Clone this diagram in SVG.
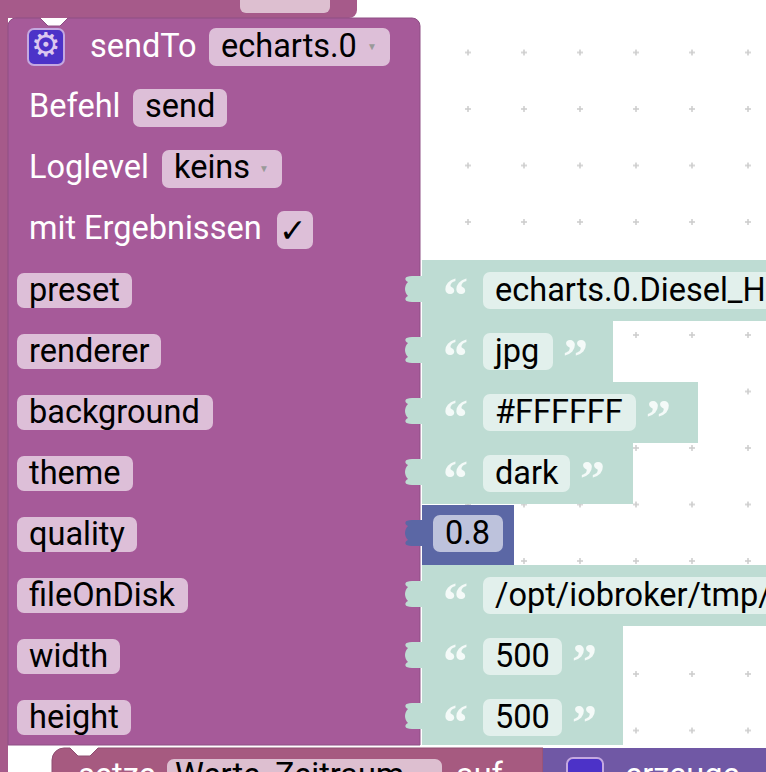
<svg xmlns="http://www.w3.org/2000/svg" width="766" height="772" viewBox="0 0 766 772">
<style>
text{font-family:Roboto,"Noto Sans",sans-serif;font-size:32.5px}
.w{fill:#fff}.k{fill:#000}
.pill{fill:#DDBFD8}
.gp{fill:#E2F0EC}
.g{fill:#BEDCD3}
.q{fill:#F4FAF8;font-family:"Liberation Serif",serif;font-size:50px;font-weight:bold}
.t{fill:#999;font-size:10px}
.dot{stroke:#ccc;stroke-width:1.5}
</style>
<defs>
<pattern id="grid" x="0" y="0" width="56" height="56.5" patternUnits="userSpaceOnUse" patternTransform="translate(468,335)">
<path class="dot" d="M-3 0H3M0 -3V3"/>
<path class="dot" d="M53 0H59M56 -3V3"/><path class="dot" d="M-3 56.5H3M0 53.5V59.5"/><path class="dot" d="M53 56.5H59M56 53.5V59.5"/>
</pattern>
</defs>
<rect width="766" height="772" fill="#fff"/>
<rect width="766" height="772" fill="url(#grid)"/>
<g id="parent">
<rect x="-10" y="-20" width="367" height="38" rx="8" fill="#A65A8A"/>
<rect x="240" y="-20" width="90" height="33" rx="6" fill="#DDBFD0"/>
<rect x="-10" y="0" width="18" height="772" fill="#A65A8A"/>
</g>
<g id="connectors">
<rect x="422" y="260" width="344" height="61" class="g"/>
<rect x="422" y="321" width="191" height="61" class="g"/>
<rect x="422" y="382" width="276" height="61" class="g"/>
<rect x="422" y="443" width="211" height="61" class="g"/>
<rect x="422" y="565" width="344" height="61" class="g"/>
<rect x="422" y="626" width="201" height="61" class="g"/>
<rect x="422" y="687" width="201" height="58" class="g"/>
</g>
<g id="sendTo">
<path d="M16 18H40L48 26H60L68 18H412a8 8 0 0 1 8 8V745H8V26a8 8 0 0 1 8-8Z" fill="#A65A99" stroke="#8E4E84" stroke-width="1"/>
<rect x="28" y="29" width="36" height="36" rx="6" fill="#4C32C8" stroke="#C4A8E0" stroke-width="2"/>
<text x="46" y="56" fill="#DCC8F0" text-anchor="middle" font-size="26">⚙</text>
<text x="90" y="57" class="w">sendTo</text>
<rect x="209" y="28" width="181" height="38" rx="7" class="pill"/>
<text x="221" y="57" class="k">echarts.0</text><text x="367" y="50" class="t">▼</text>
<text x="29" y="117" class="w">Befehl</text>
<rect x="133" y="89" width="94" height="38" rx="7" class="pill"/><text x="145" y="117" class="k">send</text>
<text x="29" y="178" class="w">Loglevel</text>
<rect x="162" y="150" width="120" height="38" rx="7" class="pill"/><text x="174" y="178" class="k">keins</text><text x="259" y="172" class="t">▼</text>
<text x="29" y="239" class="w">mit Ergebnissen</text>
<rect x="277" y="211" width="36" height="38" rx="7" class="pill"/><text x="279" y="242" class="k" font-size="34" font-family="DejaVu Sans">✓</text>
<g id="labels">
<rect x="17" y="273" width="115" height="35" rx="7" class="pill"/><text x="29" y="301" class="k">preset</text>
<rect x="17" y="334" width="144" height="35" rx="7" class="pill"/><text x="29" y="362" class="k">renderer</text>
<rect x="17" y="395" width="196" height="35" rx="7" class="pill"/><text x="29" y="423" class="k">background</text>
<rect x="17" y="456" width="116" height="35" rx="7" class="pill"/><text x="29" y="484" class="k">theme</text>
<rect x="17" y="517" width="120" height="35" rx="7" class="pill"/><text x="29" y="545" class="k">quality</text>
<rect x="17" y="578" width="171" height="35" rx="7" class="pill"/><text x="29" y="606" class="k">fileOnDisk</text>
<rect x="17" y="639" width="103" height="35" rx="7" class="pill"/><text x="29" y="667" class="k">width</text>
<rect x="17" y="700" width="114" height="35" rx="7" class="pill"/><text x="29" y="728" class="k">height</text>
</g>
</g>
<g id="notches" fill="#BEDCD3">
<path d="M422 276h-10c-8 0-8 4-4 6c-4 4-4 10 0 14c-4 2-4 6 4 6h10Z"/>
<path d="M422 337h-10c-8 0-8 4-4 6c-4 4-4 10 0 14c-4 2-4 6 4 6h10Z"/>
<path d="M422 398h-10c-8 0-8 4-4 6c-4 4-4 10 0 14c-4 2-4 6 4 6h10Z"/>
<path d="M422 459h-10c-8 0-8 4-4 6c-4 4-4 10 0 14c-4 2-4 6 4 6h10Z"/>
<path d="M422 581h-10c-8 0-8 4-4 6c-4 4-4 10 0 14c-4 2-4 6 4 6h10Z"/>
<path d="M422 642h-10c-8 0-8 4-4 6c-4 4-4 10 0 14c-4 2-4 6 4 6h10Z"/>
<path d="M422 703h-10c-8 0-8 4-4 6c-4 4-4 10 0 14c-4 2-4 6 4 6h10Z"/>
</g>
<g id="texts">
<text x="443" y="312" class="q">“</text><rect x="483" y="272" width="300" height="37" rx="7" class="gp"/><text x="495" y="301" class="k">echarts.0.Diesel_H</text>
<text x="443" y="373" class="q">“</text><rect x="483" y="333" width="70" height="37" rx="7" class="gp"/><text x="495" y="362" class="k">jpg</text><text x="563" y="373" class="q">”</text>
<text x="443" y="434" class="q">“</text><rect x="483" y="394" width="153" height="37" rx="7" class="gp"/><text x="495" y="423" class="k">#FFFFFF</text><text x="646" y="434" class="q">”</text>
<text x="443" y="495" class="q">“</text><rect x="483" y="455" width="87" height="37" rx="7" class="gp"/><text x="495" y="484" class="k">dark</text><text x="580" y="495" class="q">”</text>
<text x="443" y="617" class="q">“</text><rect x="483" y="577" width="300" height="37" rx="7" class="gp"/><text x="495" y="606" class="k">/opt/iobroker/tmp/</text>
<text x="443" y="678" class="q">“</text><rect x="483" y="638" width="79" height="37" rx="7" class="gp"/><text x="495" y="667" class="k">500</text><text x="572" y="678" class="q">”</text>
<text x="443" y="739" class="q">“</text><rect x="483" y="699" width="79" height="37" rx="7" class="gp"/><text x="495" y="728" class="k">500</text><text x="572" y="739" class="q">”</text>
</g>
<g id="quality">
<rect x="422" y="505" width="92" height="60" fill="#5B67A5"/>
<path d="M422 520h-10c-8 0-8 4-4 6c-4 4-4 10 0 14c-4 2-4 6 4 6h10Z" fill="#5B67A5"/>
<rect x="433" y="515" width="70" height="37" rx="7" fill="#BDC2DC"/>
<text x="445" y="544" class="k">0.8</text>
</g>
<g id="setze">
<path d="M64 748H70L78 756H90L98 748H543V790H52V760a12 12 0 0 1 12-12Z" fill="#A65A80" stroke="#8E4E70"/>
<rect x="167" y="759" width="275" height="30" rx="7" fill="#DDBFD0"/>
<text x="78" y="786" class="w">setze</text><text x="175" y="786" class="k">Werte_Zeitraum</text><text x="456" y="786" class="w">auf</text>
<rect x="543" y="748" width="223" height="40" fill="#7058A5"/>
<rect x="567" y="758" width="36" height="30" rx="6" fill="#4C32C8" stroke="#C4A8E0" stroke-width="2"/>
<text x="625" y="786" class="w">erzeuge</text>
</g>
</svg>
